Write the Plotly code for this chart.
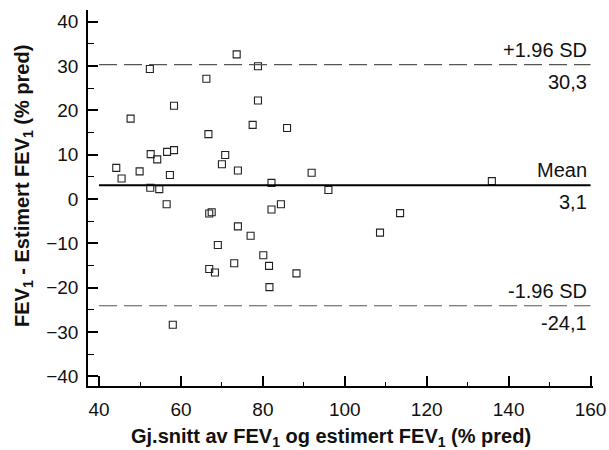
import plotly.graph_objects as go

# Bland-Altman data
mean_x = [73.6, 78.8, 52.4, 66.2, 78.8, 58.3, 47.7, 77.5, 85.9, 66.7,
          52.6, 58.3, 56.6, 54.2, 70.8, 44.2, 70.0, 45.5, 49.9, 57.3,
          73.9, 91.9, 52.5, 54.7, 82.1, 96.0, 56.5, 66.9, 67.5, 82.1,
          84.4, 73.9, 77.0, 69.0, 80.1, 73.0, 81.5, 66.9, 68.3, 88.2,
          81.6, 58.0, 135.9, 113.5, 108.6]
diff_y = [32.6, 29.9, 29.3, 27.1, 22.2, 21.0, 18.1, 16.7, 16.0, 14.6,
          10.1, 11.0, 10.6, 8.9, 9.9, 7.0, 7.8, 4.6, 6.2, 5.4,
          6.4, 5.9, 2.5, 2.2, 3.6, 2.0, -1.2, -3.3, -3.0, -2.4,
          -1.2, -6.2, -8.3, -10.4, -12.7, -14.5, -15.1, -15.8, -16.6, -16.8,
          -19.9, -28.4, 4.0, -3.2, -7.6]

mean_diff = 3.1
upper_loa = 30.3
lower_loa = -24.1
line_labels = ["+1.96 SD", "Mean", "-1.96 SD"]
value_labels = ["30,3", "3,1", "-24,1"]

x_line = [40, 160]
FONT = "Arial, Liberation Sans, sans-serif"

fig = go.Figure()
fig.add_trace(go.Scatter(
    x=mean_x, y=diff_y, mode="markers",
    marker=dict(symbol="square-open", size=7, color="#222222",
                line=dict(width=1.1, color="#222222")),
    showlegend=False, hoverinfo="skip"))

fig.add_trace(go.Scatter(x=x_line, y=[upper_loa, upper_loa], mode="lines",
                         line=dict(color="#555555", width=1.2, dash="18px,7px"),
                         showlegend=False, hoverinfo="skip"))
fig.add_trace(go.Scatter(x=x_line, y=[lower_loa, lower_loa], mode="lines",
                         line=dict(color="#555555", width=1.2, dash="18px,7px"),
                         showlegend=False, hoverinfo="skip"))
fig.add_trace(go.Scatter(x=x_line, y=[mean_diff, mean_diff], mode="lines",
                         line=dict(color="#000000", width=2),
                         showlegend=False, hoverinfo="skip"))

annotations = []
for lab, val, yv in zip(line_labels, value_labels, [upper_loa, mean_diff, lower_loa]):
    annotations.append(dict(x=160, y=yv, xref="x", yref="y", text=lab,
                            showarrow=False, xanchor="right", yanchor="middle",
                            xshift=-2, yshift=15,
                            font=dict(family=FONT, size=20, color="#111111")))
    annotations.append(dict(x=160, y=yv, xref="x", yref="y", text=val,
                            showarrow=False, xanchor="right", yanchor="middle",
                            xshift=-2, yshift=-17,
                            font=dict(family=FONT, size=20, color="#111111")))

annotations.append(dict(x=0.481, y=0, xref="paper", yref="paper",
                        text="<b>Gj.snitt av FEV<sub>1</sub> og estimert FEV<sub>1</sub> (% pred)</b>",
                        showarrow=False, xanchor="center", yanchor="middle", yshift=-51,
                        font=dict(family=FONT, size=20, color="#111111")))
annotations.append(dict(x=0, y=0.532, xref="paper", yref="paper",
                        text="<b>FEV<sub>1</sub> - Estimert FEV<sub>1</sub> (% pred)</b>",
                        showarrow=False, xanchor="center", yanchor="middle", xshift=-64,
                        textangle=-90,
                        font=dict(family=FONT, size=20, color="#111111")))

fig.update_layout(
    width=609, height=450,
    margin=dict(l=88, r=16, t=10, b=64, autoexpand=False),
    paper_bgcolor="white", plot_bgcolor="white",
    font=dict(family=FONT, size=19, color="#111111"),
    annotations=annotations,
    xaxis=dict(range=[37.3, 160.6], tick0=40, dtick=20, ticks="inside", ticklen=10,
               tickwidth=1.5, tickcolor="black", showline=True, linecolor="black",
               linewidth=1.5, showgrid=False, zeroline=False, automargin=False,
               tickfont=dict(family=FONT, size=19, color="#111111"),
               ticklabelstandoff=5,
               minor=dict(ticks="inside", ticklen=4, tick0=40, dtick=10,
                          tickcolor="black", tickwidth=1.2, showgrid=False)),
    yaxis=dict(range=[-42.2, 42.6], tick0=0, dtick=10, ticks="inside", ticklen=10,
               tickwidth=1.5, tickcolor="black", showline=True, linecolor="black",
               linewidth=1.5, showgrid=False, zeroline=False, automargin=False,
               tickfont=dict(family=FONT, size=19, color="#111111"),
               ticklabelstandoff=4,
               minor=dict(ticks="inside", ticklen=6, tick0=0, dtick=5,
                          tickcolor="black", tickwidth=1.2, showgrid=False)),
)

fig.write_html("out.html")
